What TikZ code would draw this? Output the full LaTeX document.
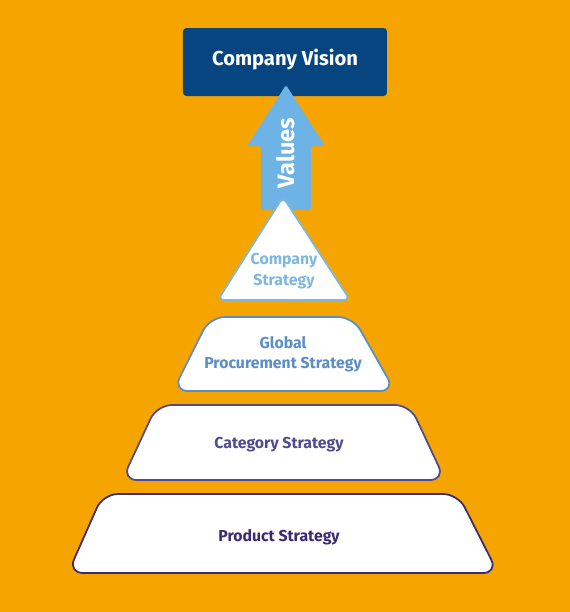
\documentclass[tikz,border=0pt]{standalone}
\usepackage{fontspec}
\setmainfont{Fira Sans}
\definecolor{bgorange}{HTML}{F6A500}
\definecolor{visionblue}{HTML}{074580}
\definecolor{valueblue}{HTML}{6DB3E5}
\definecolor{lightline}{HTML}{7DB8E0}
\definecolor{globalblue}{HTML}{5A8EC4}
\definecolor{catpurple}{HTML}{4E4C8C}
\definecolor{prodpurple}{HTML}{3B2C72}

\begin{document}
\begin{tikzpicture}[scale=0.2]
\tikzstyle{every node}+=[inner sep=0pt, font=\bfseries]
\tikzstyle{level}=[fill=white, line width=1pt, rounded corners=8.5pt]
% background
\fill [bgorange] (0,0) rectangle (57,-61.2);
\useasboundingbox (0,0) rectangle (57,-61.2);
% vision box
\fill [visionblue, rounded corners=2pt] (18.3,-2.8) rectangle (38.7,-9.6);
\draw (28.5,-6.0) node (vision) [white, font=\bfseries\fontsize{11.5}{13}\selectfont] {Company Vision};
% values arrow
\fill [valueblue, rounded corners=1pt] (28.6,-8.5) -- (32.5,-14.6) -- (31.1,-14.6)
  -- (31.1,-21) -- (26.1,-21) -- (26.1,-14.6) -- (24.7,-14.6) -- cycle;
\draw (28.6,-15.3) node (values) [white, rotate=90, font=\bfseries\fontsize{13.5}{15}\selectfont] {Values};
% company strategy
\draw [level, draw=lightline, rounded corners=3.5pt] (28.3,-19.7) -- (35.0,-30.0) -- (21.8,-30.0) -- cycle;
\draw (28.4,-27.1) node (company) [text=lightline, align=center, font=\bfseries\fontsize{9}{12}\selectfont] {Company\\Strategy};
% global procurement strategy
\draw [level, draw=globalblue] (21.0,-31.7) -- (35.3,-31.7) -- (39.5,-39.1) -- (17.3,-39.1) -- cycle;
\draw (28.3,-35.4) node (global) [text=globalblue, align=center, font=\bfseries\fontsize{9}{11.5}\selectfont] {Global\\Procurement Strategy};
% category strategy
\draw [level, draw=catpurple] (15.7,-40.5) -- (41.0,-40.5) -- (44.5,-48.0) -- (12.2,-48.0) -- cycle;
\draw (27.9,-44.5) node (category) [text=catpurple, font=\bfseries\fontsize{9}{11}\selectfont] {Category Strategy};
% product strategy
\draw [level, draw=prodpurple] (10.3,-49.4) -- (45.8,-49.4) -- (49.8,-57.3) -- (6.8,-57.3) -- cycle;
\draw (27.9,-53.7) node (product) [text=prodpurple, font=\bfseries\fontsize{9}{11}\selectfont] {Product Strategy};
\end{tikzpicture}
\end{document}
